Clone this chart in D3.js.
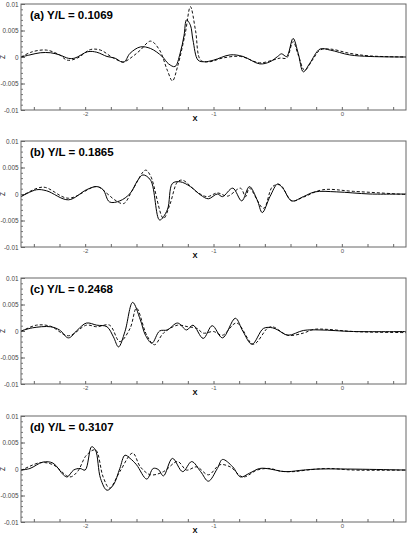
<!DOCTYPE html>
<html>
<head>
<meta charset="utf-8">
<script src="https://cdn.jsdelivr.net/npm/d3@7"></script>
<style>
  body { margin: 0; background: #fff; }
  text { font-family: "Liberation Sans", Arial, sans-serif; }
</style>
</head>
<body>
<div id="chart"></div>
<script>
// panel titles
var titles = ["(a) Y/L = 0.1069", "(b) Y/L = 0.1865", "(c) Y/L = 0.2468", "(d) Y/L = 0.3107"];

// axis ticks
var xTicks = [-2.4, -2.2, -2, -1.8, -1.6, -1.4, -1.2, -1, -0.8, -0.6, -0.4, -0.2, 0, 0.2, 0.4];
var xTickLabels = [-2, -1, 0];
var yTickLabels = [-0.01, -0.005, 0, 0.005, 0.01];

// [x, z] pairs, solid line
var solidA = [[-2.5,0],[-2.43,0.0004],[-2.35,0.0008],[-2.27,0.0008],[-2.2,0.0004],[-2.13,-0.00025],[-2.08,-0.0002],[-1.98,0.001],[-1.91,0.0009],[-1.83,0.0001],[-1.77,-0.0002],[-1.7,-0.001],[-1.65,0.0007],[-1.57,0.0019],[-1.49,0.0016],[-1.4,0.0001],[-1.35,-0.0013],[-1.3,-0.0018],[-1.26,0.0007],[-1.23,0.004],[-1.21,0.007],[-1.18,0.006],[-1.16,0.0032],[-1.12,-0.0006],[-1.07,-0.0009],[-1,-0.0006],[-0.87,0.0004],[-0.77,0.0001],[-0.64,-0.0013],[-0.56,-0.0009],[-0.5,0.0001],[-0.47,0.0006],[-0.43,0.0001],[-0.38,0.0035],[-0.34,0.0007],[-0.3,-0.0028],[-0.25,-0.0012],[-0.17,0.0015],[-0.09,0.0013],[0.06,0.0004],[0.22,0.0001],[0.5,0]];
var solidB = [[-2.5,-0.0005],[-2.38,0.0008],[-2.3,0.0006],[-2.13,-0.0011],[-1.99,0.0008],[-1.91,0.0014],[-1.86,0.0008],[-1.81,-0.0015],[-1.73,-0.0013],[-1.65,0.0001],[-1.59,0.0026],[-1.55,0.0036],[-1.49,0.0026],[-1.42,-0.0049],[-1.36,-0.003],[-1.32,0.002],[-1.26,0.0023],[-1.18,0.0014],[-1.1,-0.0002],[-1.04,-0.0009],[-0.97,0],[-0.93,-0.0005],[-0.85,0.0011],[-0.78,-0.0013],[-0.72,0.0014],[-0.66,-0.0011],[-0.62,-0.0035],[-0.56,-0.0005],[-0.5,0.0019],[-0.46,0.0011],[-0.39,-0.0013],[-0.3,-0.0005],[-0.21,0.0004],[-0.04,0.0004],[0.22,0],[0.5,0]];
var solidC = [[-2.5,0],[-2.41,0.0006],[-2.27,0.0008],[-2.2,0.0002],[-2.13,-0.0013],[-2.06,0.0002],[-1.99,0.0015],[-1.91,0.0011],[-1.83,0.0008],[-1.78,-0.0011],[-1.74,-0.003],[-1.69,-0.0001],[-1.63,0.0054],[-1.57,0.0021],[-1.53,-0.0008],[-1.48,-0.0023],[-1.42,0],[-1.36,0.0002],[-1.28,0.0015],[-1.21,0.0002],[-1.16,0.0011],[-1.08,-0.0014],[-1.01,0.001],[-0.93,-0.0013],[-0.83,0.0024],[-0.77,-0.0001],[-0.7,-0.0025],[-0.61,0.0005],[-0.54,0.0006],[-0.5,0.0002],[-0.42,-0.0008],[-0.3,0.0001],[-0.17,0.0002],[0.09,-0.0001],[0.5,-0.0001]];
var solidD = [[-2.5,-0.0002],[-2.43,0.0001],[-2.33,0.0013],[-2.25,0.0011],[-2.17,-0.0011],[-2.14,-0.0015],[-2.09,-0.0002],[-2.04,0.0001],[-2,-0.0002],[-1.95,0.0042],[-1.92,0.0036],[-1.88,-0.0018],[-1.83,-0.004],[-1.78,-0.003],[-1.73,0.0001],[-1.69,0.0026],[-1.65,0.002],[-1.6,0.0008],[-1.52,-0.0019],[-1.47,0.0001],[-1.43,-0.0001],[-1.39,-0.0013],[-1.32,0.002],[-1.24,-0.0005],[-1.17,0.0014],[-1.1,-0.0005],[-1.04,-0.0023],[-0.97,0.0001],[-0.93,0.0018],[-0.85,0.0004],[-0.79,-0.0015],[-0.72,-0.0008],[-0.64,0.0001],[-0.56,0],[-0.48,-0.0004],[-0.42,-0.0005],[-0.3,-0.0002],[-0.17,0],[0.5,-0.0002]];

// [x, z] pairs, dashed line
var dashedA = [[-2.5,0],[-2.41,0.001],[-2.3,0.0013],[-2.2,0.0004],[-2.14,-0.0006],[-2.06,-0.0002],[-1.96,0.0014],[-1.88,0.0013],[-1.78,-0.0002],[-1.7,-0.0009],[-1.63,0.0001],[-1.57,0.0013],[-1.49,0.003],[-1.42,0.0013],[-1.36,-0.0025],[-1.32,-0.0045],[-1.28,-0.0018],[-1.22,0.0045],[-1.18,0.0095],[-1.14,0.005],[-1.1,-0.0006],[-1.03,-0.0009],[-0.93,-0.0002],[-0.79,0.0001],[-0.64,-0.0011],[-0.54,-0.0006],[-0.48,-0.0002],[-0.43,-0.0002],[-0.38,0.0029],[-0.34,0.0004],[-0.29,-0.0025],[-0.23,-0.0006],[-0.17,0.0013],[-0.09,0.0015],[0.06,0.0007],[0.22,0.0002],[0.5,0]];
var dashedB = [[-2.5,-0.0005],[-2.33,0.0013],[-2.13,-0.0008],[-1.91,0.0014],[-1.83,0.0001],[-1.77,-0.0011],[-1.7,-0.0018],[-1.63,0.0008],[-1.53,0.0045],[-1.49,0.0034],[-1.39,-0.0046],[-1.34,-0.002],[-1.28,0.0023],[-1.24,0.0026],[-1.13,0.0004],[-1.05,-0.0005],[-0.97,0.0002],[-0.89,-0.0004],[-0.79,0.0011],[-0.75,-0.0005],[-0.72,0.0011],[-0.61,-0.0027],[-0.54,0.0014],[-0.48,0.0017],[-0.39,-0.0013],[-0.3,-0.0006],[-0.15,0.0008],[0.09,0.0005],[0.5,-0.0001]];
var dashedC = [[-2.5,-0.0001],[-2.38,0.0011],[-2.27,0.0009],[-2.13,-0.0009],[-1.99,0.0011],[-1.91,0.0008],[-1.81,0.0011],[-1.73,-0.002],[-1.65,0.0005],[-1.6,0.0043],[-1.52,-0.0008],[-1.46,-0.0026],[-1.39,-0.0004],[-1.28,0.0011],[-1.2,0.0008],[-1.13,0.0005],[-1.08,-0.0004],[-1,-0.0001],[-0.93,-0.0008],[-0.82,0.0015],[-0.69,-0.0025],[-0.58,0.0005],[-0.54,0.0008],[-0.42,-0.0008],[-0.3,-0.0004],[-0.22,0.0003],[-0.11,0.0003],[0.09,-0.0001],[0.5,-0.0003]];
var dashedD = [[-2.5,-0.0003],[-2.35,0.0012],[-2.25,0.0008],[-2.12,-0.0015],[-2.06,-0.0005],[-1.99,0.0026],[-1.92,0.0036],[-1.86,-0.0015],[-1.81,-0.0036],[-1.73,-0.0005],[-1.63,0.003],[-1.57,0.0004],[-1.49,-0.0011],[-1.39,-0.0005],[-1.28,0.0014],[-1.21,-0.0002],[-1.13,0.0004],[-1.04,-0.0011],[-0.95,0.0008],[-0.87,0.0004],[-0.77,-0.0015],[-0.66,-0.0002],[-0.56,0.0001],[-0.48,-0.0004],[-0.38,-0.0005],[-0.27,-0.0002],[-0.11,0.0001],[0.09,-0.0002],[0.5,-0.0002]];

var solids = [solidA, solidB, solidC, solidD];
var dashes = [dashedA, dashedB, dashedC, dashedD];

var W = 411, H = 547;
var left = 21, right = 406;
var tops = [4, 141, 278, 416];
var ph = 106;

var svg = d3.select("#chart").append("svg")
  .attr("width", W)
  .attr("height", H);

var x = d3.scaleLinear().domain([-2.5, 0.5]).range([left, right]);
var y = d3.scaleLinear().domain([-0.01, 0.01]).range([ph, 0]);

var line = d3.line()
  .x(function (d) { return x(d[0]); })
  .y(function (d) { return y(d[1]); })
  .curve(d3.curveCatmullRom.alpha(0.5));

titles.forEach(function (t, i) {
  var g = svg.append("g").attr("transform", "translate(0," + tops[i] + ")");

  // x axis, inward ticks
  var xAxis = d3.axisBottom(x)
    .tickValues(xTicks)
    .tickSizeInner(-3)
    .tickSizeOuter(0)
    .tickPadding(2)
    .tickFormat(function (d) {
      return xTickLabels.some(function (v) { return Math.abs(v - d) < 1e-6; }) ? String(d) : "";
    });
  var gx = g.append("g").attr("transform", "translate(0," + ph + ")").call(xAxis);
  gx.select(".domain").remove();
  gx.selectAll("line").attr("stroke", "#666");
  gx.selectAll("text").style("font-size", "6px").attr("fill", "#555");

  // minor y ticks
  var gy2 = g.append("g").attr("transform", "translate(" + left + ",0)")
    .call(d3.axisLeft(y).ticks(20).tickSizeInner(-2).tickSizeOuter(0).tickFormat(""));
  gy2.select(".domain").remove();
  gy2.selectAll("line").attr("stroke", "#777");

  var gy = g.append("g").attr("transform", "translate(" + left + ",0)")
    .call(d3.axisLeft(y).tickValues(yTickLabels).tickSizeInner(-4).tickSizeOuter(0).tickPadding(2.5)
      .tickFormat(function (d) { return String(d); }));
  gy.select(".domain").remove();
  gy.selectAll("line").attr("stroke", "#666");
  gy.selectAll("text").style("font-size", "6.4px").attr("fill", "#444");

  // dashed curve
  g.append("path")
    .datum(dashes[i])
    .attr("d", line)
    .attr("fill", "none")
    .attr("stroke", "#111")
    .attr("stroke-width", 1)
    .attr("stroke-dasharray", "3,2");

  // solid curve
  g.append("path")
    .datum(solids[i])
    .attr("d", line)
    .attr("fill", "none")
    .attr("stroke", "#000")
    .attr("stroke-width", 1);

  // frame
  g.append("rect")
    .attr("x", left)
    .attr("y", 0)
    .attr("width", right - left)
    .attr("height", ph)
    .attr("fill", "none")
    .attr("stroke", "#666")
    .attr("stroke-width", 1);

  g.append("text")
    .attr("x", 30)
    .attr("y", 14.5)
    .text(t)
    .style("font-size", "11.5px")
    .style("font-weight", "bold");

  g.append("text")
    .attr("x", 195)
    .attr("y", ph + 11)
    .attr("text-anchor", "middle")
    .text("X")
    .style("font-size", "7.5px")
    .style("font-weight", "bold");

  g.append("text")
    .attr("transform", "translate(5," + (ph / 2) + ") rotate(-90)")
    .attr("text-anchor", "middle")
    .text("Z")
    .style("font-size", "6.5px");
});
</script>
</body>
</html>
